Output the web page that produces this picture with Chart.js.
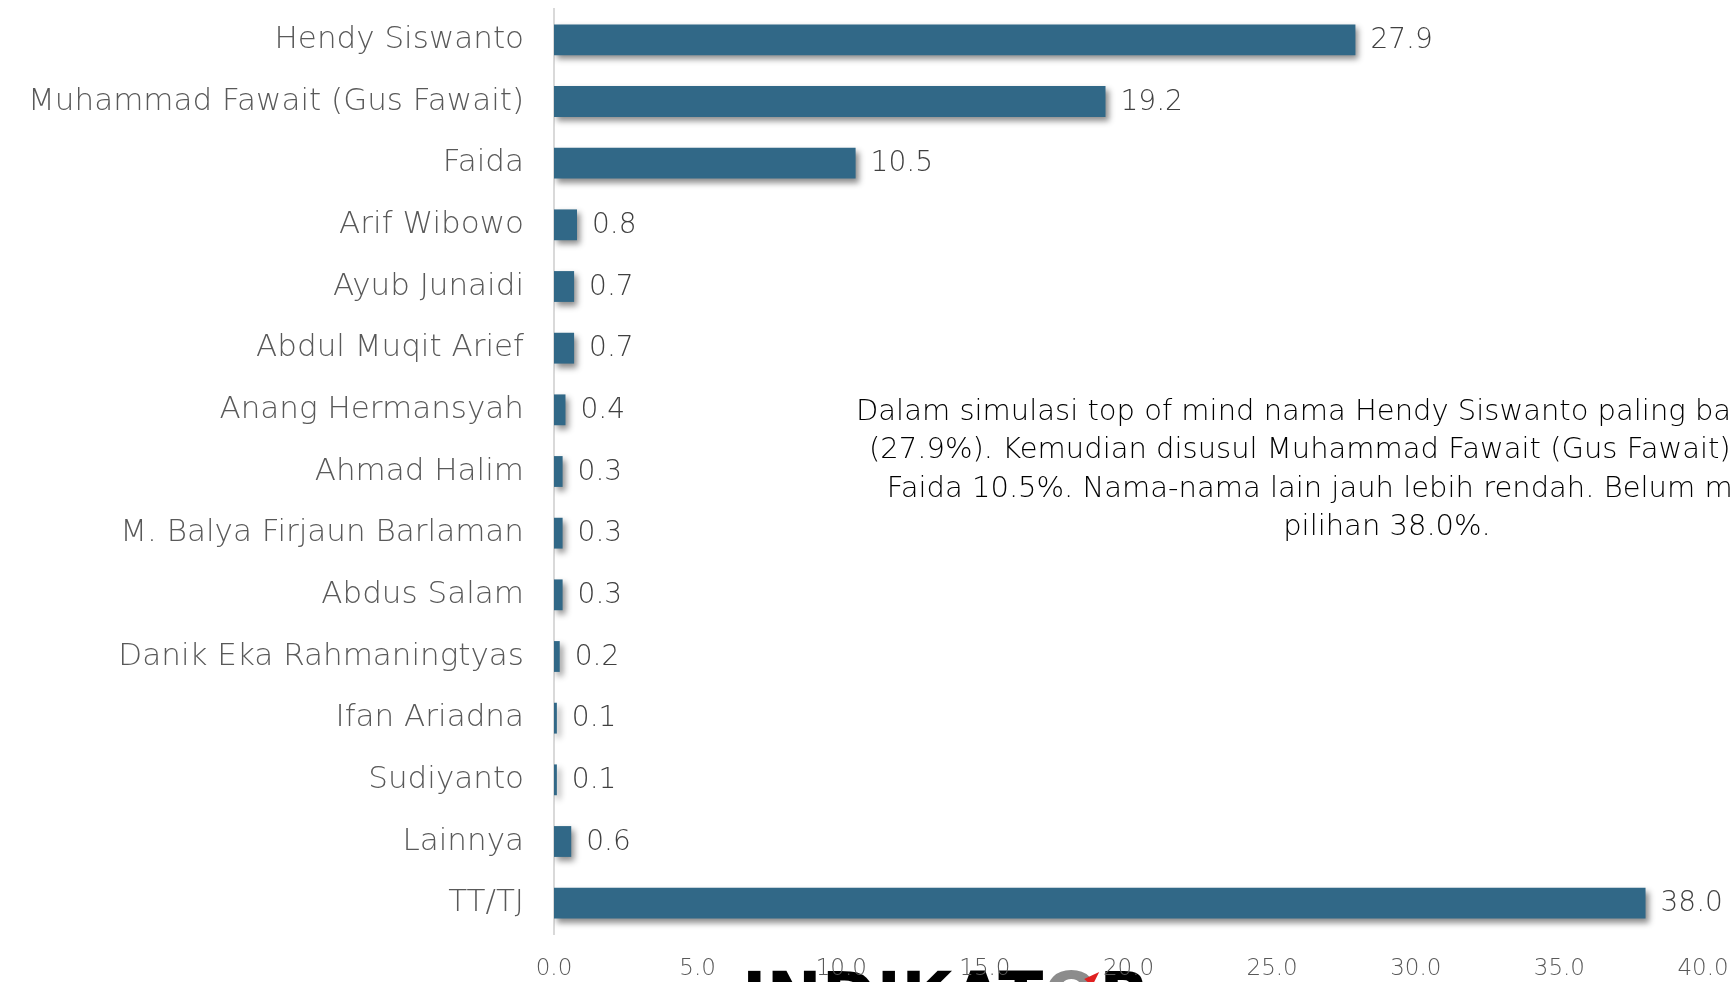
<!DOCTYPE html>
<html>
<head>
<meta charset="utf-8">
<script src="https://cdn.jsdelivr.net/npm/chart.js@4.4.1/dist/chart.umd.min.js"></script>
<style>
  html, body { margin: 0; padding: 0; background: #fff; }
  #wrap { width: 1731px; height: 982px; position: relative; }
</style>
</head>
<body>
<div id="wrap"><canvas id="chart"></canvas></div>
<script>
// candidate names (top of mind)
const names = [
    'Hendy Siswanto', 'Muhammad Fawait (Gus Fawait)', 'Faida', 'Arif Wibowo',
    'Ayub Junaidi', 'Abdul Muqit Arief', 'Anang Hermansyah', 'Ahmad Halim',
    'M. Balya Firjaun Barlaman', 'Abdus Salam', 'Danik Eka Rahmaningtyas',
    'Ifan Ariadna', 'Sudiyanto', 'Lainnya', 'TT/TJ'
];
const percents = [27.9, 19.2, 10.5, 0.8, 0.7, 0.7, 0.4, 0.3, 0.3, 0.3, 0.2, 0.1, 0.1, 0.6, 38.0];
const xTicks = [0, 5, 10, 15, 20, 25, 30, 35, 40];
const noteLines = [
    'Dalam simulasi top of mind nama Hendy Siswanto paling banyak disebut',
    '(27.9%). Kemudian disusul Muhammad Fawait (Gus Fawait) 19.2%, dan',
    'Faida 10.5%. Nama-nama lain jauh lebih rendah. Belum menentukan',
    'pilihan 38.0%.'
];

const FONT = "'DejaVu Sans', sans-serif";

// shadow under the bars
const barShadow = {
    id: 'barShadow',
    beforeDatasetsDraw(chart) {
        const ctx = chart.ctx;
        ctx.save();
        ctx.shadowColor = 'rgba(0,0,0,0.45)';
        ctx.shadowBlur = 6;
        ctx.shadowOffsetX = 3;
        ctx.shadowOffsetY = 4;
    },
    afterDatasetsDraw(chart) {
        chart.ctx.restore();
    }
};

// value labels at end of bars
const valueLabels = {
    id: 'valueLabels',
    afterDatasetsDraw(chart) {
        const ctx = chart.ctx;
        const meta = chart.getDatasetMeta(0);
        ctx.save();
        ctx.font = '200 28px ' + FONT;
        ctx.fillStyle = '#404040';
        ctx.textAlign = 'left';
        ctx.textBaseline = 'middle';
        meta.data.forEach((bar, i) => {
            ctx.fillText(percents[i].toFixed(1), bar.x + 15, bar.y + 1);
        });
        ctx.restore();
    }
};

// logo behind the x ticks + the note text
const extras = {
    id: 'extras',
    beforeDraw(chart) {
        const ctx = chart.ctx;
        ctx.save();
        ctx.font = 'bold 66px ' + FONT;
        ctx.textBaseline = 'alphabetic';
        ctx.textAlign = 'left';
        let x = 742;
        const y = 1019;
        const parts = [['INDIKAT', '#000'], ['O', '#8c8c8c'], ['R', '#000']];
        parts.forEach(p => {
            ctx.fillStyle = p[1];
            ctx.fillText(p[0], x, y);
            x += ctx.measureText(p[0]).width;
        });
        ctx.fillStyle = '#e02020';
        ctx.beginPath();
        ctx.moveTo(x - 66, 979);
        ctx.lineTo(x - 51, 972);
        ctx.lineTo(x - 58, 986);
        ctx.closePath();
        ctx.fill();
        ctx.restore();
    },
    afterDraw(chart) {
        const ctx = chart.ctx;
        ctx.save();
        ctx.font = '200 29px ' + FONT;
        ctx.fillStyle = '#000';
        ctx.textAlign = 'center';
        ctx.textBaseline = 'middle';
        noteLines.forEach((line, i) => {
            ctx.fillText(line, 1387, 412 + i * 38.5);
        });
        ctx.restore();
    }
};

const ctx = document.getElementById('chart').getContext('2d');
const chart = new Chart(ctx, {
    type: 'bar',
    data: {
        labels: names,
        datasets: [{
            data: percents,
            backgroundColor: '#316887',
            borderWidth: 0,
            barPercentage: 0.5,
            categoryPercentage: 1.0
        }]
    },
    options: {
        indexAxis: 'y',
        responsive: true,
        maintainAspectRatio: false,
        animation: false,
        layout: {
            padding: { top: 9, right: 28, bottom: 0, left: 0 }
        },
        plugins: {
            legend: { display: false },
            tooltip: { enabled: false }
        },
        scales: {
            x: {
                min: 0,
                max: 40,
                afterBuildTicks(scale) {
                    scale.ticks = xTicks.map(v => ({ value: v }));
                },
                afterFit(scale) {
                    scale.height = 48;
                    scale.paddingLeft = 0;
                    scale.paddingRight = 0;
                },
                grid: { display: false },
                border: { display: false },
                ticks: {
                    padding: 13,
                    color: '#595959',
                    font: { family: FONT, size: 23, weight: 200 },
                    callback: v => v.toFixed(1)
                }
            },
            y: {
                afterFit(scale) {
                    scale.width = 554;
                    scale.paddingTop = 0;
                    scale.paddingBottom = 0;
                },
                grid: { display: false, drawTicks: false },
                border: { display: true, color: '#d9d9d9', width: 2 },
                ticks: {
                    padding: 30,
                    color: '#595959',
                    font: { family: FONT, size: 31, weight: 200 }
                }
            }
        }
    },
    plugins: [extras, barShadow, valueLabels]
});
</script>
</body>
</html>
